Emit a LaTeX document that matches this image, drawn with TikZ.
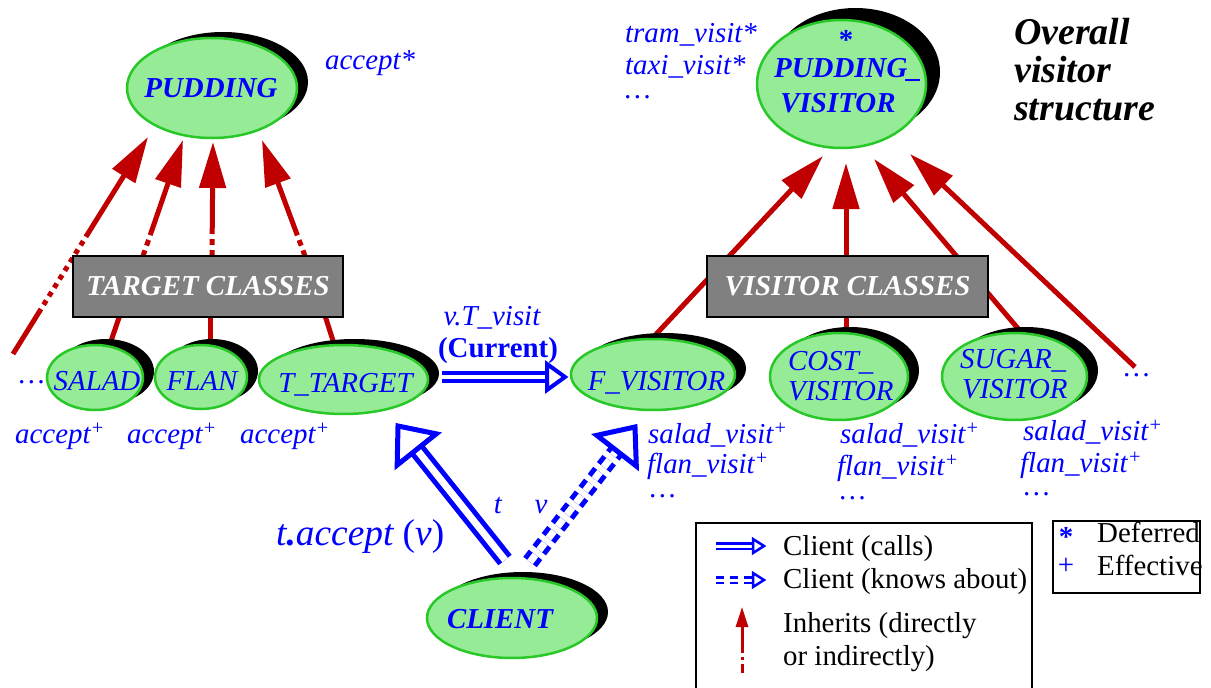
\documentclass[tikz,border=0pt]{standalone}
\usepackage{fontspec}
\setmainfont{Liberation Serif}
\usetikzlibrary{shapes.geometric,shadows,arrows.meta,calc,backgrounds}
\definecolor{clsfill}{RGB}{150,235,150}
\definecolor{clsline}{RGB}{40,200,40}
\definecolor{inhred}{RGB}{192,0,0}
\definecolor{txtblue}{RGB}{0,0,255}
\definecolor{boxgray}{RGB}{128,128,128}
\newcommand\fsz{\fontsize{29}{30}\selectfont}
\newcommand\openhead[5]{%
  \coordinate (ohb) at ($(#1)!#3!(#2)$);
  \draw[txtblue, line width=#5, fill=white, solid]
    (#1) -- ($(ohb)!#4!90:(#1)$) -- ($(ohb)!#4!-90:(#1)$) -- cycle;}
\begin{document}
\begin{tikzpicture}[x=1bp,y=-1bp,
  clsbase/.style={ellipse, draw=clsline, line width=2.5bp, fill=clsfill, inner sep=0pt},
  shad/.style={general shadow={shadow xshift=11bp, shadow yshift=6bp, fill=black}},
  bigshad/.style={general shadow={shadow xshift=14bp, shadow yshift=12bp, fill=black}},
  cls/.style={clsbase, shad},
  ctext/.style={text=txtblue, font=\fsz\itshape, inner sep=0pt, anchor=base},
  ctextb/.style={ctext, font=\fsz\bfseries\itshape},
  catbox/.style={draw=black, line width=2.5bp, fill=boxgray, text=white, font=\fsz\bfseries\itshape, inner sep=0pt},
  lbl/.style={text=txtblue, font=\fsz\itshape, inner sep=0pt, anchor=base west},
  leg/.style={text=black, font=\fsz, inner sep=0pt, anchor=base west},
  inh/.style={draw=inhred, line width=5bp},
  inhtip/.style={inh, -{Triangle[length=46bp,width=26bp]}},
  dotsfirst/.style={dash pattern=on 6bp off 5bp on 6bp off 5bp on 400bp off 1bp},
  dotslong/.style={dash pattern=on 53bp off 5bp on 5bp off 5bp on 5bp off 5bp on 5bp off 5bp on 5bp off 5bp on 5bp off 5bp on 5bp off 5bp on 5bp off 5bp on 5bp off 5bp on 400bp off 1bp},
  call/.style={draw=txtblue, double=white, line width=4.5bp, double distance=6bp},
  know/.style={call, dash pattern=on 9bp off 6bp},
]
\useasboundingbox (0,0) rectangle (1211,688);

% classes
\node[cls, minimum width=170bp, minimum height=100bp] (pud) at (212,88) {};
\node[ctextb] (pudT) at (211,98) {PUDDING};
\node[clsbase, bigshad, minimum width=169bp, minimum height=128bp] (pv) at (841.5,84) {};
\node[font=\fsz\bfseries, text=txtblue, inner sep=0pt] (pvstar) at (846,40) {*};
\node[ctextb] (pvT1) at (848,78) {PUDDING\_};
\node[ctextb] (pvT2) at (838,113) {VISITOR};
\node[cls, minimum width=96bp, minimum height=65bp] (salad) at (95,377.5) {};
\node[ctext] (saladT) at (97,390) {SALAD};
\node[cls, minimum width=92bp, minimum height=64bp] (flan) at (201,377) {};
\node[ctext] (flanT) at (202,390) {FLAN};
\node[cls, minimum width=169bp, minimum height=69bp] (tt) at (343.5,379.5) {};
\node[ctext] (ttT) at (345.5,392) {T\_TARGET};
\node[cls, minimum width=164bp, minimum height=71bp] (fv) at (653,374.5) {};
\node[ctext] (fvT) at (656.5,390) {F\_VISITOR};
\node[cls, minimum width=138bp, minimum height=87bp] (cost) at (839,376.5) {};
\node[ctext, anchor=base west] (costT1) at (788,370) {COST\_};
\node[ctext, anchor=base west] (costT2) at (788,400) {VISITOR};
\node[cls, minimum width=145bp, minimum height=87bp] (sugar) at (1014.5,376.5) {};
\node[ctext, anchor=base west] (sugarT1) at (960,368) {SUGAR\_};
\node[ctext, anchor=base west] (sugarT2) at (962,398) {VISITOR};
\node[cls, minimum width=170bp, minimum height=80bp] (client) at (512,618) {};
\node[ctextb] (clientT) at (500,628) {CLIENT};

% category boxes
\node[catbox, minimum width=270bp, minimum height=61bp] (tbox) at (208,286.5) {TARGET CLASSES};
\node[catbox, minimum width=281bp, minimum height=61bp] (vbox) at (847.5,286.5) {VISITOR CLASSES};

% inheritance
\begin{scope}[on background layer]
  \coordinate (iA0) at (13,354);   \coordinate (iA1) at (148,137);
  \coordinate (iB0) at (108,350);  \coordinate (iBm) at (125,300);
  \coordinate (iBt) at (143,256);  \coordinate (iB1) at (183,140);
  \coordinate (iC0) at (210,350);  \coordinate (iCm) at (210,300);
  \coordinate (iCt) at (212,256);  \coordinate (iC1) at (213,142);
  \coordinate (iD0) at (336,350);  \coordinate (iDm) at (320,300);
  \coordinate (iDt) at (305,256);  \coordinate (iD1) at (262,140);
  \draw[inhtip, dotslong] (iA0) -- (iA1);
  \draw[inh] (iB0) -- (iBm);  \draw[inhtip, dotsfirst] (iBt) -- (iB1);
  \draw[inh] (iC0) -- (iCm);  \draw[inhtip, dotsfirst] (iCt) -- (iC1);
  \draw[inh] (iD0) -- (iDm);  \draw[inhtip, dotsfirst] (iDt) -- (iD1);
  \coordinate (jA0) at (646,345);  \coordinate (jA1) at (823,156);
  \coordinate (jB0) at (846,345);  \coordinate (jB1) at (846,163);
  \coordinate (jC0) at (1032,345); \coordinate (jC1) at (874,159);
  \coordinate (jD0) at (1135,367); \coordinate (jD1) at (910,154);
  \draw[inhtip] (jA0) -- (jA1);
  \draw[inhtip] (jB0) -- (jB1);
  \draw[inhtip] (jC0) -- (jC1);
  \draw[inhtip] (jD0) -- (jD1);
\end{scope}

% client relations
\coordinate (cA0) at (442,377); \coordinate (cA1) at (565,377);
\draw[call, line width=4.3bp, double distance=4bp, shorten >=18bp] (cA0) -- (cA1);
\openhead{cA1}{cA0}{18bp}{13bp}{4bp}
\coordinate (cB0) at (505,560); \coordinate (cB1) at (398,426);
\draw[call, line width=5bp, double distance=7bp, shorten >=30bp] (cB0) -- (cB1);
\openhead{cB1}{cB0}{30bp}{25bp}{5bp}
\coordinate (cC0) at (530,562); \coordinate (cC1) at (635,427);
\draw[know, line width=5bp, double distance=7bp, shorten >=30bp] (cC0) -- (cC1);
\openhead{cC1}{cC0}{30bp}{25bp}{5bp}

% labels
\node[lbl] (accpud) at (325,70) {accept*};
\node[lbl] (tram) at (625,43) {tram\_visit*};
\node[lbl] (taxi) at (625,75) {taxi\_visit*};
\node[lbl] (pvdots) at (625,99) {\ldots};
\node[lbl] (dotsL) at (19,383) {\ldots};
\node[lbl] (accA) at (15,443) {accept\textsuperscript{+}};
\node[lbl] (accB) at (127,443) {accept\textsuperscript{+}};
\node[lbl] (accC) at (240,443) {accept\textsuperscript{+}};
\node[lbl, anchor=base] (vtv) at (492,325) {v.T\_visit};
\node[lbl, anchor=base, font=\fsz\bfseries] (cur) at (498,357) {(Current)};
\node[lbl] (fvs1) at (648,443) {salad\_visit\textsuperscript{+}};
\node[lbl] (fvs2) at (647,473) {flan\_visit\textsuperscript{+}};
\node[lbl] (fvs3) at (650,497) {\ldots};
\node[lbl] (cs1) at (840,443) {salad\_visit\textsuperscript{+}};
\node[lbl] (cs2) at (837,475) {flan\_visit\textsuperscript{+}};
\node[lbl] (cs3) at (840,499) {\ldots};
\node[lbl] (ss1) at (1023,440) {salad\_visit\textsuperscript{+}};
\node[lbl] (ss2) at (1020,472) {flan\_visit\textsuperscript{+}};
\node[lbl] (ss3) at (1024,495) {\ldots};
\node[lbl] (dotsR) at (1124,376) {\ldots};
\node[lbl, anchor=base] (tlab) at (498,513) {t};
\node[lbl, anchor=base] (vlab) at (541,513) {v};
\node[lbl, font=\fontsize{37.5}{38}\selectfont\itshape] (tacc) at (276,545) {t\textbf{.}accept {\upshape(}v{\upshape)}};
\node[leg, font=\fontsize{38}{38}\selectfont\bfseries\itshape] (ov1) at (1014,45) {Overall};
\node[leg, font=\fontsize{38}{38}\selectfont\bfseries\itshape] (ov2) at (1014,83) {visitor};
\node[leg, font=\fontsize{38}{38}\selectfont\bfseries\itshape] (ov3) at (1014,121) {structure};

% legend
\draw[line width=2bp] (696,523) rectangle (1032,700);
\coordinate (lA0) at (716,546); \coordinate (lA1) at (764,546);
\draw[call, line width=2.5bp, double distance=3bp, shorten >=11bp] (lA0) -- (lA1);
\openhead{lA1}{lA0}{11bp}{7bp}{2.5bp}
\node[leg] (legcalls) at (783,555) {Client (calls)};
\coordinate (lB0) at (716,580); \coordinate (lB1) at (764,580);
\draw[know, line width=2.5bp, double distance=3bp, dash pattern=on 8bp off 6bp, shorten >=11bp] (lB0) -- (lB1);
\openhead{lB1}{lB0}{11bp}{7bp}{2.5bp}
\node[leg] (legknows) at (783,588) {Client (knows about)};
\coordinate (lC0) at (742,673); \coordinate (lC1) at (742,607);
\draw[draw=inhred, line width=3bp, dash pattern=on 9bp off 4bp on 3bp off 4bp on 200bp off 1bp,
      -{Triangle[length=20bp,width=12bp]}] (lC0) -- (lC1);
\node[leg] (leginh1) at (783,632) {Inherits (directly};
\node[leg] (leginh2) at (783,665) {or indirectly)};
\draw[line width=2.5bp] (1053,521) rectangle (1200,593);
\node[font=\fsz\bfseries, text=txtblue, inner sep=0pt] (legstar) at (1066,537) {*};
\node[font=\fsz, text=txtblue, inner sep=0pt] (legplus) at (1066,566) {+};
\node[leg] (legdef) at (1097,542) {Deferred};
\node[leg] (legeff) at (1097,575) {Effective};
\end{tikzpicture}
\end{document}
